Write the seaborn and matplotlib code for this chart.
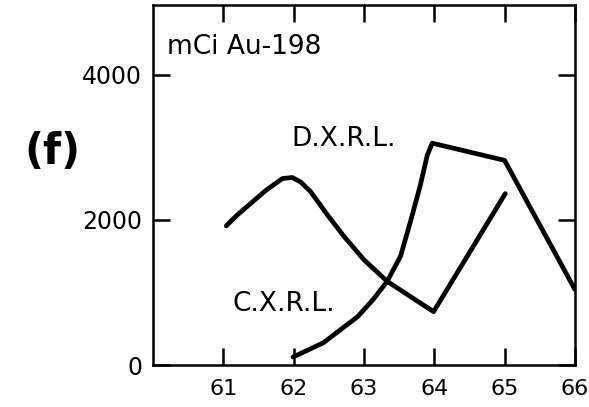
import matplotlib
matplotlib.use("Agg")
import matplotlib.pyplot as plt
import seaborn as sns
import pandas as pd

# Curve 1 (peak near 62, dip at 64, up to 65)
c1_x = [61.04, 61.2, 61.35, 61.6, 61.84, 61.98, 62.1, 62.24, 62.49, 62.71, 63.0, 63.33, 63.66, 63.99, 65.01]
c1_y = [1917, 2070, 2194, 2403, 2569, 2583, 2520, 2389, 2055, 1778, 1450, 1153, 944, 736, 2361]
# Curve 2 (rising from 62 to peak at 64, then down to 66)
c2_x = [61.99, 62.42, 62.91, 63.13, 63.33, 63.52, 63.66, 63.8, 63.9, 63.97, 65.0, 66.0]
c2_y = [111, 306, 667, 903, 1153, 1500, 1972, 2472, 2889, 3056, 2819, 1042]

x_ticks = [61, 62, 63, 64, 65, 66]
y_ticks = [0, 2000, 4000]

df = pd.concat([
    pd.DataFrame({"x": c1_x, "y": c1_y, "series": "A"}),
    pd.DataFrame({"x": c2_x, "y": c2_y, "series": "B"}),
])

sns.set_style("ticks")
plt.rcParams['font.family'] = ['DejaVu Sans']
plt.rcParams.update({"text.color": "black", "axes.edgecolor": "black",
                     "xtick.color": "black", "ytick.color": "black",
                     "axes.labelcolor": "black"})

fig = plt.figure(figsize=(5.89, 4.07), dpi=100)
ax = fig.add_axes([0.26, 0.103, 0.716, 0.885])
sns.lineplot(data=df, x="x", y="y", hue="series", units="series", estimator=None,
             palette=["black", "black"], linewidth=3.4, legend=False, ax=ax,
             sort=False)
for ln in ax.lines:
    ln.set_solid_joinstyle("round")
    ln.set_solid_capstyle("round")

ax.set_xlim(60, 66)
ax.set_ylim(0, 4960)
ax.set_xticks(x_ticks)
ax.set_yticks(y_ticks)
ax.set_xticklabels([str(t) for t in x_ticks])
ax.set_yticklabels([str(t) for t in y_ticks])
ax.tick_params(direction="in", length=12, width=1.8, labelsize=17, pad=8,
               top=True, right=True)
ax.tick_params(axis="x", pad=10, labelsize=16)
for s in ax.spines.values():
    s.set_linewidth(1.8)
    s.set_visible(True)
ax.set_xlabel("")
ax.set_ylabel("")

ax.text(60.2, 4380, "mCi Au-198", fontsize=19, va="center", ha="left")
ax.text(61.96, 3120, "D.X.R.L.", fontsize=19, va="center", ha="left")
ax.text(61.13, 840, "C.X.R.L.", fontsize=19, va="center", ha="left")
fig.text(52 / 589, 1 - 152 / 407, "(f)", fontsize=30, fontweight="bold",
         ha="center", va="center")

fig.savefig("out.png", dpi=100)
